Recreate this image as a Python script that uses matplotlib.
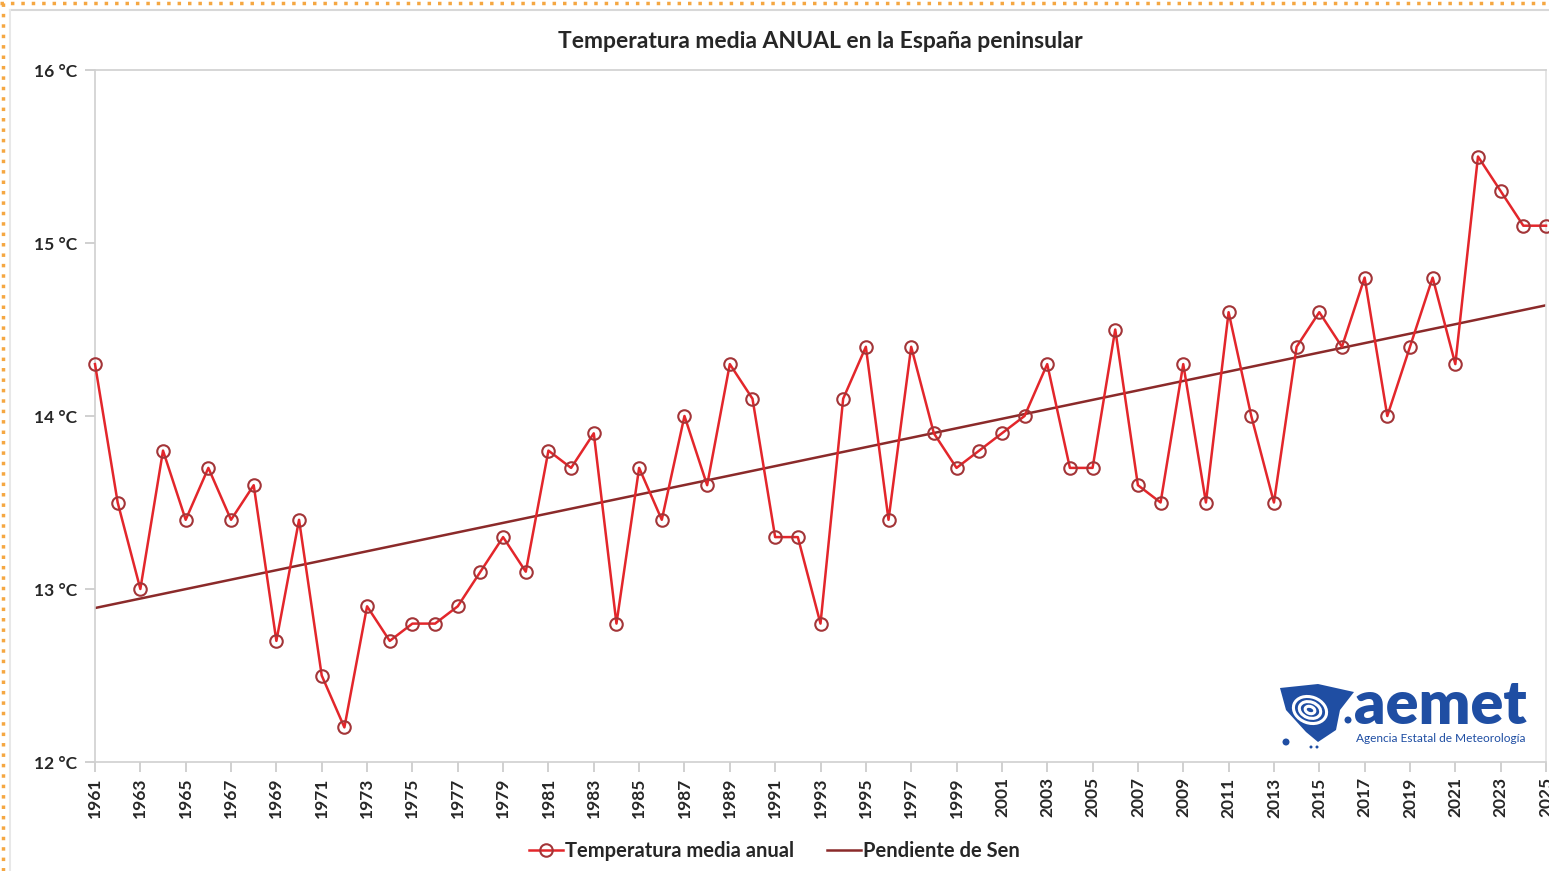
import numpy as np
import matplotlib.pyplot as plt
from matplotlib.patches import Ellipse, Polygon, Rectangle, Circle

# annual mean temperature, peninsular Spain
years = list(range(1961, 2026))
temps = [14.3, 13.5, 13.0, 13.8, 13.4, 13.7, 13.4, 13.6, 12.7, 13.4,
         12.5, 12.2, 12.9, 12.7, 12.8, 12.8, 12.9, 13.1, 13.3, 13.1,
         13.8, 13.7, 13.9, 12.8, 13.7, 13.4, 14.0, 13.6, 14.3, 14.1,
         13.3, 13.3, 12.8, 14.1, 14.4, 13.4, 14.4, 13.9, 13.7, 13.8,
         13.9, 14.0, 14.3, 13.7, 13.7, 14.5, 13.6, 13.5, 14.3, 13.5,
         14.6, 14.0, 13.5, 14.4, 14.6, 14.4, 14.8, 14.0, 14.4, 14.8,
         14.3, 15.5, 15.3, 15.1, 15.1]
trend_ends = [12.89, 14.64]  # Sen slope line at 1961 and 2025
yticks = [12, 13, 14, 15, 16]
xtick_years = list(range(1961, 2026, 2))

plt.rcParams['font.family'] = ['Lato', 'DejaVu Sans']
txt = '#262626'

fig = plt.figure(figsize=(15.49, 8.71), dpi=100)
ax = fig.add_axes([95 / 1549, 1 - 762 / 871, 1451 / 1549, 692 / 871])

ax.plot(years, temps, color='#e3262b', lw=1.8, marker='o', ms=9,
        mfc='none', mec='#a33538', mew=1.5, clip_on=False, zorder=3,
        label='Temperatura media anual')
ax.plot([years[0], years[-1]], trend_ends, color='#8b2a2a', lw=1.8,
        zorder=2, label='Pendiente de Sen')

ax.set_xlim(1961, 2025)
ax.set_ylim(12, 16)
ax.set_yticks(yticks)
ax.set_yticklabels([f'{t} °C' for t in yticks], fontsize=12.5, fontweight='bold',
                   color=txt)
ax.set_xticks(xtick_years)
ax.set_xticklabels([str(y) for y in xtick_years], rotation=90, fontsize=12.5,
                   fontweight='bold', color=txt)
ax.tick_params(axis='both', color='#c8c8c8', length=7, width=1.2)
ax.tick_params(axis='x', pad=4)
ax.tick_params(axis='y', pad=6)
for s in ax.spines.values():
    s.set_color('#d0d0d0')
    s.set_linewidth(1.2)
ax.spines['right'].set_color('#e0e0e0')

ax.set_title('Temperatura media ANUAL en la España peninsular', fontsize=16.5,
             fontweight='bold', color=txt, pad=16)

leg = fig.legend(loc='center', bbox_to_anchor=(0.5, 1 - 851 / 871), ncol=2,
                 frameon=False, handlelength=1.7, handletextpad=0.1,
                 columnspacing=1.6, prop={'size': 14.5, 'weight': 'bold'})
for t in leg.get_texts():
    t.set_color(txt)

# outer chart border and dotted frame
fig.add_artist(plt.Line2D([10 / 1549, 1], [1 - 10 / 871] * 2, color='#d8d8d8',
                          lw=1.5, transform=fig.transFigure))
fig.add_artist(plt.Line2D([10 / 1549] * 2, [0, 1 - 10 / 871], color='#e8e8e8',
                          lw=1.5, transform=fig.transFigure))
fig.add_artist(plt.Line2D([0, 1], [1 - 3 / 871] * 2, color='#f5a742', lw=2.5,
                          ls=(0, (1, 2)), transform=fig.transFigure))
fig.add_artist(plt.Line2D([3 / 1549] * 2, [0, 1], color='#f5a742', lw=2.5,
                          ls=(0, (1, 2)), transform=fig.transFigure))

# aemet logo (approximation)
blue = '#1f4ea3'
lx = fig.add_axes([1278 / 1549, 1 - 750 / 871, 80 / 1549, 68 / 871])
lx.set_xlim(0, 80)
lx.set_ylim(0, 68)
lx.axis('off')
lx.add_patch(Polygon([[2, 62], [40, 66], [76, 58], [62, 40], [58, 20], [40, 8],
                      [28, 18], [8, 40]], closed=True, fc=blue, ec='none'))
for w, h in [(34, 26), (22, 16), (10, 7)]:
    lx.add_patch(Ellipse((32, 40), w, h, angle=-20, fc='none', ec='white', lw=2.2))
lx.add_patch(Circle((8, 8), 3.5, fc=blue, ec='none'))
lx.add_patch(Circle((70, 30), 3.5, fc=blue, ec='none'))
lx.add_patch(Circle((33, 3), 1.5, fc=blue, ec='none'))
lx.add_patch(Circle((39, 3), 1.5, fc=blue, ec='none'))
fig.text(1354 / 1549, 1 - 706 / 871, 'aemet', fontsize=44, fontweight='heavy',
         color=blue, va='center', ha='left')
fig.text(1356 / 1549, 1 - 739 / 871, 'Agencia Estatal de Meteorología',
         fontsize=8.6, color=blue, va='center', ha='left')

fig.savefig('out.png', dpi=100)
